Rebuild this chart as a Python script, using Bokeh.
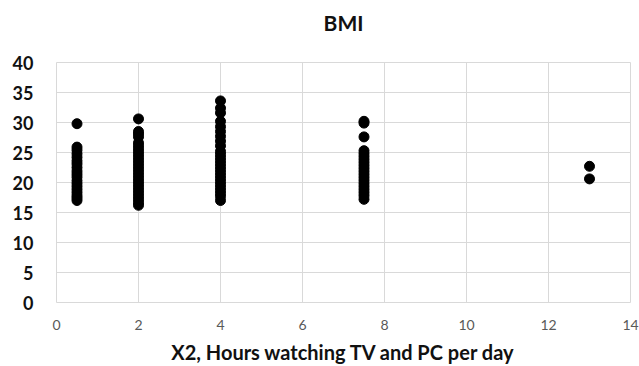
from bokeh.plotting import figure
from bokeh.models import ColumnDataSource, FixedTicker, Range1d, Title
from bokeh.embed import file_html
from bokeh.resources import INLINE

# Hours watching TV and PC per day (X2) vs BMI
x_05 = [29.8, 25.9, 25.4, 24.8, 24.2, 23.6, 23.1, 22.5, 21.9, 21.4, 20.9, 20.3, 19.8, 19.3, 18.8, 18.3, 17.8, 17.4, 17.0]
x_2 = [30.6, 28.5, 28.1, 27.6, 26.6, 26.1, 25.6, 25.1, 24.6, 24.1, 23.6, 23.1, 22.6, 22.1, 21.6, 21.1, 20.6,
       20.1, 19.6, 19.1, 18.6, 18.1, 17.6, 17.1, 16.6, 16.2]
x_4 = [33.6, 32.4, 31.6, 30.2, 29.3, 28.5, 27.7, 26.9, 26.1, 25.2, 24.7, 24.2, 23.7, 23.2, 22.7, 22.2, 21.7,
       21.2, 20.7, 20.2, 19.7, 19.2, 18.7, 18.2, 17.7, 17.0]
x_75 = [30.2, 29.9, 27.6, 25.3, 24.8, 24.3, 23.8, 23.3, 22.8, 22.3, 21.8, 21.3, 20.8, 20.3, 19.8, 19.3, 18.8,
        18.3, 17.8, 17.2]
x_13 = [22.7, 20.6]

hours = [0.5] * len(x_05) + [2] * len(x_2) + [4] * len(x_4) + [7.5] * len(x_75) + [13] * len(x_13)
bmi = x_05 + x_2 + x_4 + x_75 + x_13

x_ticks = [0, 2, 4, 6, 8, 10, 12, 14]
y_ticks = [0, 5, 10, 15, 20, 25, 30, 35, 40]
chart_title = "BMI"

FONT = "Lato"
src = ColumnDataSource(dict(x=hours, y=bmi))

p = figure(width=639, height=366, output_backend="svg", toolbar_location=None,
           x_range=Range1d(0, 14), y_range=Range1d(0, 40),
           min_border_left=56, min_border_right=9,
           min_border_top=62, min_border_bottom=64)

p.scatter("x", "y", source=src, size=10, color="black")

# spacer panel between frame and title, then the title itself
p.add_layout(Title(text=" ", text_font_size="1px", standoff=24), "above")
p.add_layout(Title(text=chart_title, text_font=FONT, text_font_size="21px",
                   text_font_style="bold", text_color="#111111",
                   align="center", vertical_align="middle", standoff=0,
                   offset=-22), "above")

p.xaxis.ticker = FixedTicker(ticks=x_ticks)
p.yaxis.ticker = FixedTicker(ticks=y_ticks)
p.xaxis.axis_label = "X2, Hours watching TV and PC per day"
p.xaxis.axis_label_text_font = FONT
p.xaxis.axis_label_text_font_size = "20px"
p.xaxis.axis_label_text_font_style = "bold"
p.xaxis.axis_label_text_color = "#111111"
p.xaxis.axis_label_standoff = 7
p.xaxis.major_label_text_font = FONT
p.xaxis.major_label_text_font_size = "14px"
p.xaxis.major_label_text_color = "#595959"
p.xaxis.major_label_standoff = 11
p.yaxis.major_label_text_font = FONT
p.yaxis.major_label_text_font_size = "18px"
p.yaxis.major_label_text_font_style = "bold"
p.yaxis.major_label_text_color = "#111111"
p.yaxis.major_label_standoff = 17

for ax in (p.xaxis, p.yaxis):
    ax.axis_line_color = None
    ax.major_tick_line_color = None
    ax.minor_tick_line_color = None

p.xgrid.ticker = FixedTicker(ticks=x_ticks)
p.ygrid.ticker = FixedTicker(ticks=y_ticks)
p.grid.grid_line_color = "#d9d9d9"
p.grid.grid_line_width = 1
p.outline_line_color = "#d9d9d9"
p.background_fill_color = "white"
p.border_fill_color = "white"

open("out.html", "w").write(file_html(p, INLINE))
